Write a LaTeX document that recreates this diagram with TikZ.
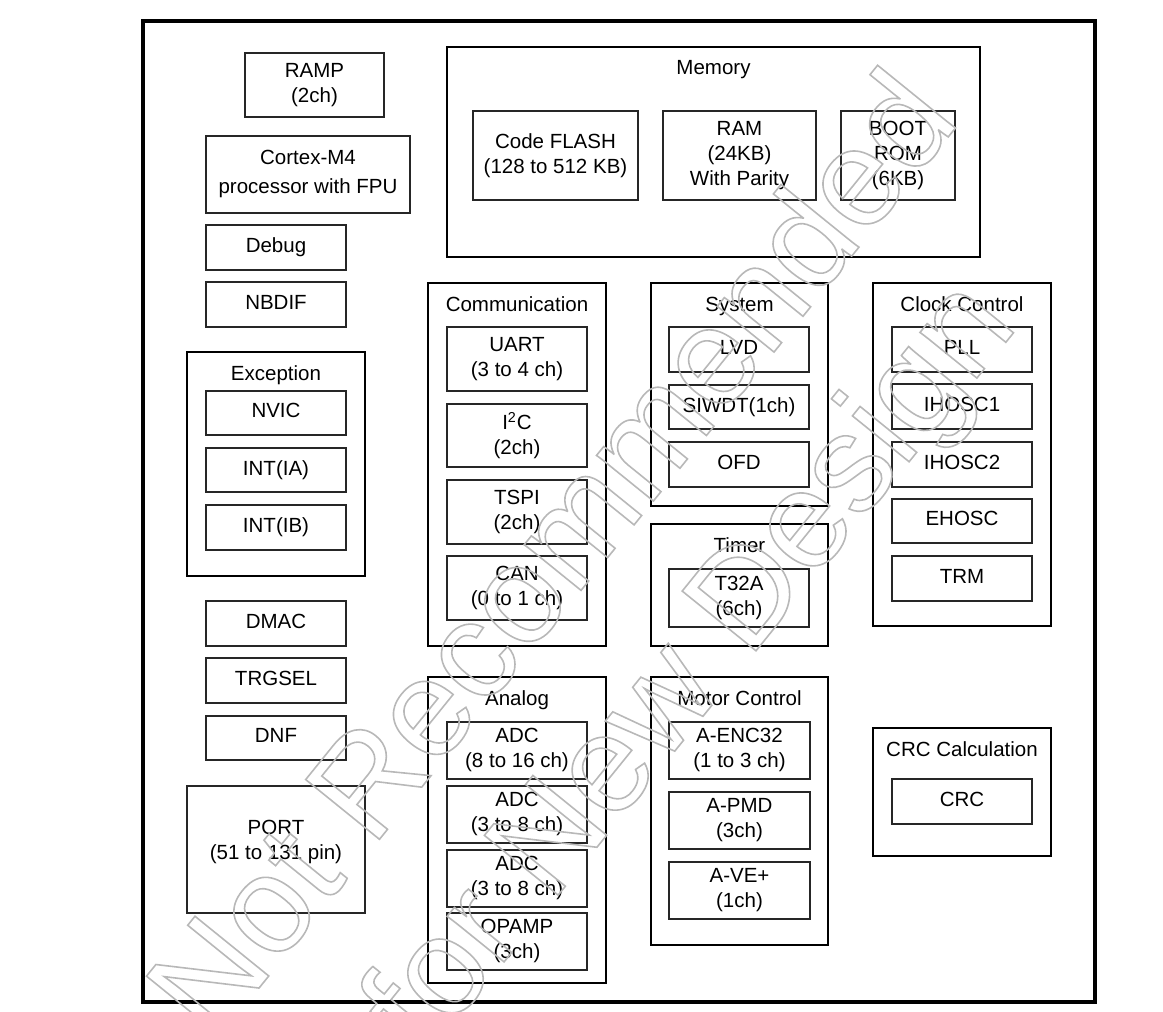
\documentclass[tikz,border=0pt]{standalone}
\usepackage{fontspec}
\setmainfont{Liberation Sans}
\definecolor{wmgray}{gray}{0.72}
\newcommand{\wmon}{\special{pdf:literal direct 1 Tr 0.8 w}}
\newcommand{\wmoff}{\special{pdf:literal direct 0 Tr}}
\newcommand{\blk}[6]{\node(#1)[blk,minimum width={(#4-#2)*0.5pt},minimum height={(#5-#3)*0.5pt}] at ({(#2+#4)/2},{(#3+#5)/2}) {#6}}
\newcommand{\grp}[6]{\node(#1)[grp,minimum width={(#4-#2)*0.5pt},minimum height={(#5-#3)*0.5pt}] at ({(#2+#4)/2},{(#3+#5)/2}) {};
  \node(#1title)[grptitle] at ({(#2+#4)/2},{#3+28}) {#6}}

\begin{document}
\begin{tikzpicture}[
        x=0.5pt, y=-0.5pt,
        every node/.style={font=\fontsize{10.25pt}{12.5pt}\selectfont, align=center, text depth=0.22em},
        blk/.style={rectangle,draw=black!85,line width=0.75pt,inner sep=0pt},
        grp/.style={rectangle,draw=black,line width=1.1pt,inner sep=0pt},
        chip/.style={rectangle,draw=black,line width=1.7pt,inner sep=0pt},
        grptitle/.style={anchor=base,inner sep=0pt,text depth=0pt},
        lbl/.style={inner sep=0pt},
        watermark/.style={rotate=51,text=wmgray,inner sep=0pt,text depth=0pt,
                          font=\fontsize{69pt}{87pt}\selectfont}
      ]
      \useasboundingbox (0,0) rectangle (1163,1012);
      \node(chip)[chip,minimum width={952*0.5pt},minimum height={981*0.5pt}] at (619,511.5) {};
      % left column
      \blk{ramp}{245}{53}{384}{117}{RAMP\\(2ch)};
      \blk{cpu}{206}{136}{410}{213}{Cortex-M4\\[2pt]processor with FPU};
      \blk{dbg}{206}{225}{346}{270}{Debug};
      \blk{nbdif}{206}{282}{346}{327}{NBDIF};
      \grp{exc}{187}{352}{365}{576}{Exception};
      \blk{nvic}{206}{391}{346}{435}{NVIC};
      \blk{intia}{206}{448}{346}{492}{INT(IA)};
      \blk{intib}{206}{505}{346}{550}{INT(IB)};
      \blk{dmac}{206}{601}{346}{646}{DMAC};
      \blk{trgsel}{206}{658}{346}{703}{TRGSEL};
      \blk{dnf}{206}{716}{346}{760}{DNF};
      \blk{port}{187}{786}{365}{913}{};
      \node(portlbl)[lbl] at (276,842) {PORT\\(51 to 131 pin)};
      % memory
      \grp{mem}{447}{47}{980}{257}{Memory};
      \blk{flash}{473}{111}{638}{200}{Code FLASH\\(128 to 512 KB)};
      \blk{ram}{663}{111}{816}{200}{RAM\\(24KB)\\With Parity};
      \blk{boot}{841}{111}{955}{200}{BOOT\\ROM\\(6KB)};
      % communication
      \grp{comm}{428}{283}{606}{646}{Communication};
      \blk{uart}{447}{327}{587}{391}{UART\\(3 to 4 ch)};
      \blk{iic}{447}{404}{587}{467}{I\textsuperscript{2}C\\(2ch)};
      \blk{tspi}{447}{480}{587}{544}{TSPI\\(2ch)};
      \blk{can}{447}{556}{587}{620}{CAN\\(0 to 1 ch)};
      % system, timer
      \grp{sys}{651}{283}{828}{506}{System};
      \blk{lvd}{669}{327}{809}{372}{LVD};
      \blk{siwdt}{669}{385}{809}{429}{SIWDT(1ch)};
      \blk{ofd}{669}{442}{809}{487}{OFD};
      \grp{tmr}{651}{524}{828}{646}{Timer};
      \blk{t32a}{669}{569}{809}{627}{T32A\\(6ch)};
      % clock control
      \grp{clk}{873}{283}{1051}{626}{Clock Control};
      \blk{pll}{892}{327}{1032}{372}{PLL};
      \blk{ihosc1}{892}{384}{1032}{429}{IHOSC1};
      \blk{ihosc2}{892}{442}{1032}{487}{IHOSC2};
      \blk{ehosc}{892}{499}{1032}{543}{EHOSC};
      \blk{trm}{892}{556}{1032}{601}{TRM};
      % analog
      \grp{ana}{428}{677}{606}{983}{Analog};
      \blk{adca}{447}{722}{587}{779}{ADC\\(8 to 16 ch)};
      \blk{adcb}{447}{786}{587}{843}{ADC\\(3 to 8 ch)};
      \blk{adcc}{447}{850}{587}{907}{ADC\\(3 to 8 ch)};
      \blk{opamp}{447}{913}{587}{970}{OPAMP\\(3ch)};
      % motor control
      \grp{mot}{651}{677}{828}{945}{Motor Control};
      \blk{enc}{669}{722}{810}{779}{A-ENC32\\(1 to 3 ch)};
      \blk{pmd}{669}{792}{810}{849}{A-PMD\\(3ch)};
      \blk{vep}{669}{862}{810}{919}{A-VE+\\(1ch)};
      % crc
      \grp{crc}{873}{728}{1051}{856}{CRC Calculation};
      \blk{crcb}{892}{779}{1032}{824}{CRC};
      % watermark
      \node(wm)[watermark] at (616,606) {\wmon Not Recommended\\for New Design\wmoff};
\end{tikzpicture}
\end{document}
